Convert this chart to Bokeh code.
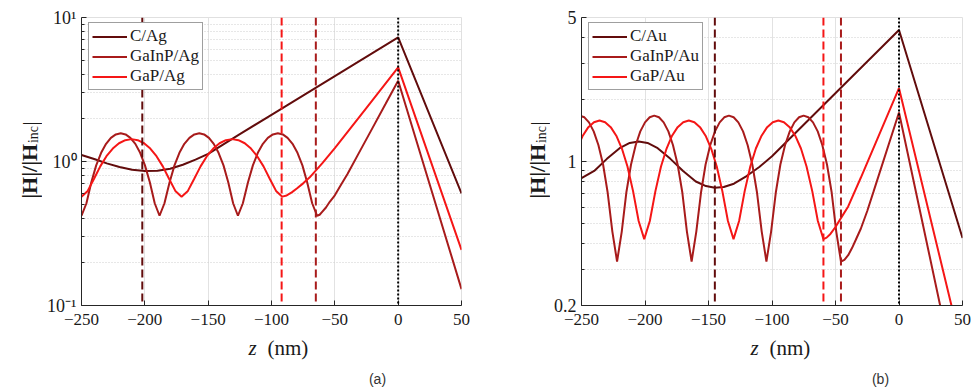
from bokeh.plotting import figure
from bokeh.layouts import row, column
from bokeh.models import FixedTicker, Span, BasicTickFormatter, Range1d
from bokeh.core.properties import value
from bokeh.embed import file_html
from bokeh.resources import INLINE
import math

# ---------------- data ----------------
x_ticks = [-250, -200, -150, -100, -50, 0, 50]

# panel (a)  Ag
z_c_ag = [-250, -240, -230, -220, -210, -200, -190, -180, -170, -160, -150, -125, -100, -50, 0, 50]
h_c_ag = [1.11, 1.04, 0.97, 0.915, 0.875, 0.858, 0.862, 0.89, 0.95, 1.03, 1.13, 1.55, 2.11, 3.92, 7.27, 0.6]

z_gainp_ag = [-250, -246.1, -242.3, -238.4, -234.5, -230.6, -226.8, -222.9, -219,
              -215.2, -211.4, -207.5, -203.7, -199.9, -196.0, -192.2, -188.4,
              -184.5, -180.5, -176.6, -172.7, -168.8, -164.8, -160.9, -157,
              -153.2, -149.4, -145.6, -141.8, -137.9, -134.1, -130.3, -126.5,
              -122.6, -118.6, -114.7, -110.8, -106.8, -102.9, -98.9, -95,
              -91.1, -87.3, -83.4, -79.5, -75.6, -71.8, -67.9, -64,
              -62, -60, -57, -54, -50, -45, -40, -30, -20, -10, 0, 50]
h_gainp_ag = [0.42, 0.513, 0.715, 0.94, 1.149, 1.326, 1.46, 1.542, 1.57,
              1.542, 1.46, 1.326, 1.149, 0.94, 0.715, 0.513, 0.42,
              0.513, 0.715, 0.94, 1.149, 1.326, 1.46, 1.542, 1.57,
              1.542, 1.46, 1.326, 1.149, 0.94, 0.715, 0.513, 0.42,
              0.513, 0.715, 0.94, 1.149, 1.326, 1.46, 1.542, 1.57,
              1.542, 1.46, 1.326, 1.149, 0.94, 0.715, 0.513, 0.42,
              0.427, 0.447, 0.479, 0.525, 0.582, 0.692, 0.818, 1.19, 1.726, 2.506, 3.64, 0.13]

z_gap_ag = [-250, -245.1, -240.1, -235.2, -230.3, -225.3, -220.4, -215.4, -210.5,
            -205.6, -200.6, -195.7, -190.8, -185.8, -180.9, -175.9, -171,
            -166, -161, -156, -151, -146, -141, -136, -131,
            -126.1, -121.1, -116.2, -111.3, -106.3, -101.4, -96.4, -91.5,
            -88, -84, -80, -75, -70, -60, -50, -25, 0, 50]
h_gap_ag = [0.57, 0.625, 0.759, 0.925, 1.089, 1.23, 1.339, 1.407, 1.43,
            1.407, 1.339, 1.23, 1.089, 0.925, 0.759, 0.625, 0.57,
            0.625, 0.759, 0.925, 1.089, 1.23, 1.339, 1.407, 1.43,
            1.407, 1.339, 1.23, 1.089, 0.925, 0.759, 0.625, 0.57,
            0.581, 0.61, 0.649, 0.705, 0.773, 0.97, 1.239, 2.36, 4.5, 0.243]

interfaces_ag = [-202, -65, -92]   # C, GaInP, GaP

# panel (b)  Au
z_c_au = [-250, -240, -230, -220, -212, -205, -198, -190, -180, -170, -160, -152, -145,
          -138, -130, -120, -110, -100, 0, 50]
h_c_au = [0.83, 0.90, 1.03, 1.16, 1.23, 1.25, 1.23, 1.16, 1.03, 0.90, 0.80, 0.76, 0.745,
          0.752, 0.78, 0.85, 0.94, 1.06, 4.35, 0.425]

z_gainp_au = [-251.4, -247.7, -244.1, -240.4, -236.7, -233.0, -229.4, -225.7, -222.0,
              -218.3, -214.7, -211.0, -207.3, -203.7, -200.0, -196.3, -192.7,
              -189.0, -185.3, -181.6, -178.0, -174.3, -170.6, -167.0, -163.3,
              -159.6, -155.9, -152.3, -148.6, -144.9, -141.2, -137.6, -133.9,
              -130.2, -126.5, -122.8, -119.2, -115.5, -111.8, -108.1, -104.4,
              -100.7, -97.0, -93.4, -89.7, -86.0, -82.4, -78.7, -75.1,
              -71.4, -67.7, -64.0, -60.4, -56.7, -53.0, -49.4, -45.7,
              -43, -40, -37, -34, -30, -25, -20, 0, 50]
h_gainp_au = [1.67, 1.639, 1.548, 1.40, 1.203, 0.967, 0.707, 0.457, 0.327,
              0.457, 0.707, 0.967, 1.203, 1.40, 1.548, 1.639, 1.67,
              1.639, 1.548, 1.40, 1.203, 0.967, 0.707, 0.457, 0.327,
              0.457, 0.707, 0.967, 1.203, 1.40, 1.548, 1.639, 1.67,
              1.639, 1.548, 1.40, 1.203, 0.967, 0.707, 0.457, 0.327,
              0.457, 0.707, 0.967, 1.203, 1.40, 1.548, 1.639, 1.67,
              1.639, 1.548, 1.40, 1.203, 0.967, 0.707, 0.457, 0.327,
              0.333, 0.351, 0.38, 0.417, 0.473, 0.575, 0.716, 1.73, 0.062]

z_gap_au = [-253.4, -249.0, -244.6, -240.2, -235.8,
            -231.4, -227.0, -222.6, -218.2, -213.8, -209.4, -205.0, -200.6,
            -196.2, -191.8, -187.4, -183.0, -178.7, -174.3, -169.9, -165.5,
            -161.1, -156.7, -152.3, -147.9, -143.5, -139.1, -134.7, -130.3,
            -125.9, -121.5, -117.1, -112.7, -108.2, -103.8, -99.4, -95.0,
            -90.6, -86.1, -81.7, -77.2, -72.8, -68.3, -63.9, -59.5,
            -57, -54, -50, -45, -40, -30, 0, 50]
h_gap_au = [1.156, 1.334, 1.468, 1.552, 1.58,
            1.552, 1.468, 1.334, 1.156, 0.945, 0.718, 0.514, 0.42,
            0.514, 0.718, 0.945, 1.156, 1.334, 1.468, 1.552, 1.58,
            1.552, 1.468, 1.334, 1.156, 0.945, 0.718, 0.514, 0.42,
            0.514, 0.718, 0.945, 1.156, 1.334, 1.468, 1.552, 1.58,
            1.552, 1.468, 1.334, 1.156, 0.945, 0.718, 0.514, 0.42,
            0.427, 0.445, 0.481, 0.54, 0.605, 0.836, 2.27, 0.12]

interfaces_au = [-145, -45.7, -59.5]   # C, GaInP, GaP

labels_ag = ["C/Ag", "GaInP/Ag", "GaP/Ag"]
labels_au = ["C/Au", "GaInP/Au", "GaP/Au"]

yticks_a = [0.1, 1, 10]
yminor_a = [0.2, 0.3, 0.4, 0.5, 0.6, 0.7, 0.8, 0.9, 2, 3, 4, 5, 6, 7, 8, 9]
ylabels_a = ["10\u207b\u00b9", "10\u2070", "10\u00b9"]

yticks_b = [0.2, 1, 5]
yminor_b = [0.3, 0.4, 0.5, 0.6, 0.7, 0.8, 0.9, 2, 3, 4]
ylabels_b = ["0.2", "1", "5"]

colors = ["#620c0c", "#a81b1b", "#f51616"]
SERIF = "Liberation Serif"
INK = "#1a1a1a"

TOTAL_W, TOTAL_H = 488, 388
MAIN_H = 335
TOP = 17
FRAME_H = 288


def blank(w, h):
    f = figure(width=w, height=h, x_range=Range1d(0, w), y_range=Range1d(0, h),
               output_backend="svg", toolbar_location=None,
               x_axis_location=None, y_axis_location=None,
               min_border=0, min_border_left=0, min_border_right=0,
               min_border_top=0, min_border_bottom=0)
    f.grid.visible = False
    f.outline_line_color = None
    f.background_fill_color = "white"
    f.border_fill_color = "white"
    return f


def put(f, x, y, txt, size, style="normal", font=SERIF, angle=0.0, align="left", color=INK):
    f.text(x=[x], y=[y], text=[txt], angle=angle, text_align=align, text_baseline="middle",
           text_font=value(font), text_font_style=value(style),
           text_font_size=value(f"{size}px"), text_color=color)


def make_panel(series, labels, interfaces, yr, yticks, yminor, ylabels,
               left, right, lab_w, lab_x, zx, caption, cap_x):
    # --- main plot
    p = figure(width=TOTAL_W - lab_w, height=MAIN_H, x_range=(-250, 50), y_range=yr,
               y_axis_type="log", output_backend="svg", toolbar_location=None,
               min_border_left=left - lab_w, min_border_right=right,
               min_border_top=TOP, min_border_bottom=MAIN_H - TOP - FRAME_H)
    p.background_fill_color = "white"
    p.border_fill_color = "white"
    p.outline_line_color = "#e0e0e0"

    xa = p.xaxis[0]
    ya = p.yaxis[0]
    xa.ticker = FixedTicker(ticks=x_ticks)
    ya.ticker = FixedTicker(ticks=yticks, minor_ticks=yminor)
    ya.formatter = BasicTickFormatter()
    ya.major_label_overrides = {float(t): s for t, s in zip(yticks, ylabels)}
    for ax in (xa, ya):
        ax.axis_line_color = "#262626"
        ax.major_tick_line_color = "#262626"
        ax.minor_tick_line_color = "#262626"
        ax.major_tick_in = 5
        ax.major_tick_out = 0
        ax.minor_tick_in = 3
        ax.minor_tick_out = 0
        ax.major_label_text_font = SERIF
        ax.major_label_text_color = INK
    xa.major_label_standoff = 8
    ya.major_label_standoff = 5
    xa.minor_tick_line_color = None
    xa.major_label_text_font_size = "17px"
    ya.major_label_text_font_size = "18px"

    p.xgrid.grid_line_color = "#e2e2e2"
    p.ygrid.grid_line_color = "#e2e2e2"
    p.ygrid.minor_grid_line_color = "#cfcfcf"
    p.ygrid.minor_grid_line_dash = "1 2"

    for (zz, hh), lab, col in zip(series, labels, colors):
        p.line(zz, hh, line_color=col, line_width=2, legend_label=lab)

    for loc, col in zip(interfaces, colors):
        p.add_layout(Span(location=loc, dimension="height", line_color=col,
                          line_width=2, line_dash="8 4"))
    p.add_layout(Span(location=0, dimension="height", line_color="black",
                      line_width=2, line_dash="2 2"))

    lg = p.legend[0]
    lg.location = (7, FRAME_H - 10 - 63)
    lg.label_text_font = SERIF
    lg.label_text_font_size = "17px"
    lg.label_text_color = INK
    lg.glyph_width = 35
    lg.glyph_height = 19
    lg.label_height = 19
    lg.spacing = 0
    lg.padding = 3
    lg.margin = 0
    lg.label_standoff = 3
    lg.border_line_color = "#404040"
    lg.border_line_width = 1
    lg.background_fill_alpha = 1.0

    # --- y label strip: |H|/|H_inc|  (reads bottom to top)
    yl = blank(lab_w, MAIN_H)
    junction = MAIN_H - 147          # end of "|H|/|H", start of subscript
    put(yl, lab_x, junction, "|H|/|H", 22, style="bold", angle=math.pi / 2, align="right")
    put(yl, lab_x + 4, junction + 1, "inc", 14, angle=math.pi / 2, align="left")
    put(yl, lab_x, junction + 21, "|", 22, angle=math.pi / 2, align="left")

    # --- bottom strip: z (nm) and caption
    bt = blank(TOTAL_W, TOTAL_H - MAIN_H)
    put(bt, zx, 41, "z", 21, style="italic")
    put(bt, zx + 19, 41, "(nm)", 21)
    put(bt, cap_x, 10, caption, 14, font="Liberation Sans", align="center", color="#333333")

    return column(row(yl, p), bt, spacing=0)


pa = make_panel([(z_c_ag, h_c_ag), (z_gainp_ag, h_gainp_ag), (z_gap_ag, h_gap_ag)],
                labels_ag, interfaces_ag, (0.1, 10), yticks_a, yminor_a, ylabels_a,
                81, 27, 42, 29, 248, "(a)", 377)
pb = make_panel([(z_c_au, h_c_au), (z_gainp_au, h_gainp_au), (z_gap_au, h_gap_au)],
                labels_au, interfaces_au, (0.2, 5), yticks_b, yminor_b, ylabels_b,
                92, 14, 62, 49, 262, "(b)", 392)

layout = row(pa, pb, spacing=0)
open("out.html", "w").write(file_html(layout, INLINE))
